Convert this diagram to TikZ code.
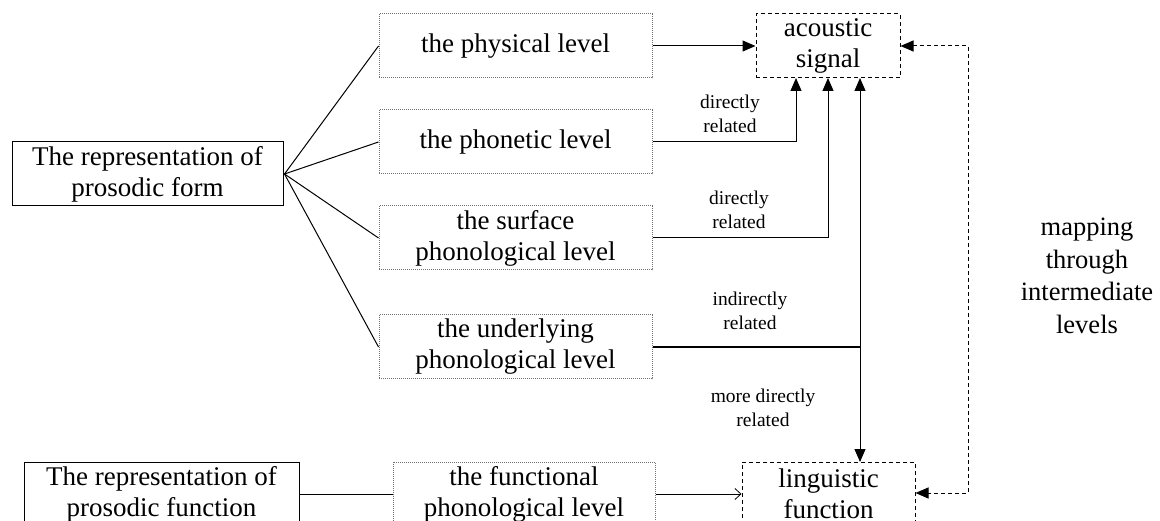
\documentclass[tikz,border=0pt]{standalone}
\usepackage{fontspec}
\setmainfont{Liberation Serif}
\usetikzlibrary{arrows.meta}
\begin{document}
\begin{tikzpicture}[x=1pt,y=-1pt,
  bigtxt/.style={font=\fontsize{27}{31}\selectfont, align=center, inner sep=0pt},
  smalltxt/.style={font=\fontsize{19.5}{24.5}\selectfont, align=center, inner sep=0pt},
  solidbox/.style={bigtxt, draw=black, line width=1pt, minimum height=64pt},
  levelbox/.style={bigtxt, draw=black!55, densely dotted, line width=1pt, minimum width=273pt, minimum height=64pt},
  dashbox/.style={bigtxt, draw=black, dash pattern=on 4pt off 3pt, line width=1pt, minimum height=64pt},
  conn/.style={line width=1pt, draw=black},
  arr/.style={conn, -{Triangle[length=13pt,width=11pt]}},
  openarr/.style={conn, -{Straight Barb[length=6pt,width=11pt,line width=0.8pt]}},
  dasharr/.style={line width=1pt, dash pattern=on 4pt off 3pt, {Triangle[length=13pt,width=11pt]}-{Triangle[length=13pt,width=11pt]}}
]
\useasboundingbox (0,0) rectangle (1160,521);

\node[solidbox, minimum width=271pt] (form) at (147.5,174) {The representation of\\prosodic form};
\node[solidbox, minimum width=275pt] (func) at (161.5,494) {The representation of\\prosodic function};

\node[levelbox] (phys) at (515.5,46) {the physical level};
\node[levelbox] (phon) at (515.5,142) {the phonetic level};
\node[levelbox] (surf) at (515.5,238) {the surface\\phonological level};
\node[levelbox] (und) at (515.5,347) {the underlying\\phonological level};
\node[levelbox, minimum width=262pt] (fpl) at (524,494) {the functional\\phonological level};

\node[dashbox, minimum width=144pt] (ac) at (828,46) {acoustic\\signal};
\node[dashbox, minimum width=173pt] (lf) at (828.5,494) {linguistic\\function};

\node[smalltxt] (l1) at (730,114) {directly\\related};
\node[smalltxt] (l2) at (739,210) {directly\\related};
\node[smalltxt] (l3) at (750,311) {indirectly\\related};
\node[smalltxt] (l4) at (763,408) {more directly\\related};
\node[bigtxt, font=\fontsize{26.5}{32.5}\selectfont] (map) at (1087,276) {mapping\\through\\intermediate\\levels};

% fan from form box
\coordinate (fo) at ([xshift=1pt]form.east);
\draw[conn] (fo) -- (phys.west);
\draw[conn] (fo) -- (phon.west);
\draw[conn] (fo) -- (surf.west);
\draw[conn] (fo) -- (und.west);

% to acoustic signal
\draw[arr] (phys.east) -- (ac.west);
\coordinate (a1) at (796,78);
\coordinate (a2) at (828,78);
\coordinate (a3) at (860,78);
\draw[arr] (phon.east) -| (a1);
\draw[arr] (surf.east) -| (a2);
\draw[arr] ([yshift=-0.8pt]und.east) -| (a3);
\coordinate (b3) at (860,462);
\draw[arr] ([yshift=0.6pt]und.east) -| (b3);

% bottom row
\draw[conn] (func.east) -- (fpl.west);
\draw[openarr] (fpl.east) -- (lf.west);

% dashed mapping
\coordinate (d1) at (968,46);
\coordinate (d2) at (968,493);
\draw[dasharr] (ac.east) -- (d1) -- (d2) -- (lf.east |- d2);
\end{tikzpicture}
\end{document}
